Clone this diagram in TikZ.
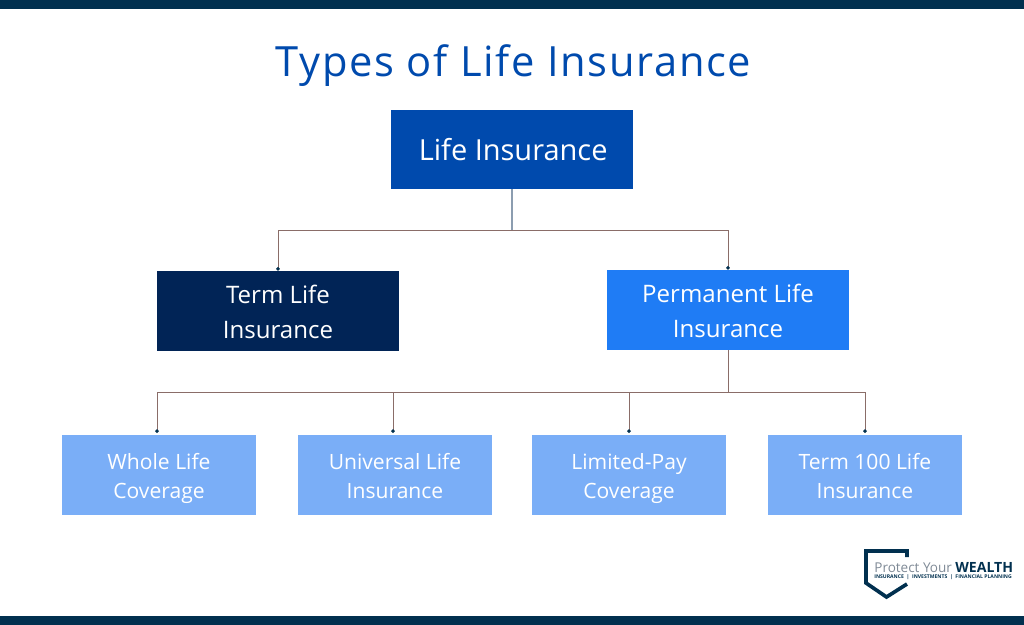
\documentclass[tikz,border=0pt]{standalone}
\usepackage{fontspec}
\setmainfont{Open Sans}
\newfontfamily\spacedfont[LetterSpace=4]{Open Sans}
\usetikzlibrary{arrows.meta,positioning}
\usepackage{xcolor}
\definecolor{barnavy}{HTML}{01304F}
\definecolor{titleblue}{HTML}{004AAD}
\definecolor{termnavy}{HTML}{012456}
\definecolor{permblue}{HTML}{1F7CF5}
\definecolor{paleblue}{HTML}{7AAEF7}
\definecolor{linkbrown}{HTML}{8A6D68}
\definecolor{stemgrey}{HTML}{8C9DB0}
\definecolor{logogrey}{HTML}{7F8A96}

\newcommand{\topstrut}[1]{\rule{0pt}{\dimexpr 0.7\baselineskip+#1\relax}}

\tikzset{
    box/.style={
        rectangle,
        inner sep=0pt,
        text=white,
        align=center
    },
    bigbox/.style={box, minimum width=242*0.02cm, minimum height=80*0.02cm, font=\fontsize{13.7}{20}\selectfont},
    smallbox/.style={box, fill=paleblue, minimum width=194*0.02cm, minimum height=80*0.02cm, font=\fontsize{12}{17}\selectfont},
    link/.style={linkbrown, line width=0.55pt, -{Circle[length=2pt,color=barnavy]}},
    logotext/.style={inner sep=0pt, anchor=base west}
}

\begin{document}
\begin{tikzpicture}[x=0.02cm, y=-0.02cm]

    \useasboundingbox (0, 0) rectangle (1024, 625);

    \fill[barnavy] (0, 0) rectangle (1024, 9);
    \fill[barnavy] (0, 616) rectangle (1024, 625);

    \node (types_title) [inner sep=0pt, text=titleblue, font=\fontsize{23.7}{28}\spacedfont] at (513.5, 66)
    {
        Types of Life Insurance
    };



    \node (life_insurance) [bigbox, fill=titleblue, minimum height=79*0.02cm, font=\fontsize{16.5}{20}\selectfont] at (512, 149.5)
    {
        \topstrut{5pt}\strut\hspace{5.6pt}Life Insurance
    };

    \node (term_life) [bigbox, fill=termnavy] at (278, 311)
    {
        \topstrut{3.4pt}\strut Term Life\\\strut Insurance
    };

    \node (permanent_life) [bigbox, fill=permblue] at (728, 310)
    {
        \topstrut{3pt}\strut Permanent Life\\\strut Insurance
    };



    \node (whole_life) [smallbox] at (159, 475)
    {
        \topstrut{3.4pt}\strut Whole Life\\\strut Coverage
    };

    \node (universal_life) [smallbox] at (395, 475)
    {
        \topstrut{3.4pt}\strut Universal Life\\\strut Insurance
    };

    \node (limited_pay) [smallbox] at (629, 475)
    {
        \topstrut{3.4pt}\strut Limited-Pay\\\strut Coverage
    };

    \node (term_100) [smallbox] at (865, 475)
    {
        \topstrut{3.4pt}\strut Term 100 Life\\\strut Insurance
    };


    \draw[stemgrey, line width=0.7pt] (life_insurance.south) to ++(0, 41) coordinate (top_fork);
    \draw[link] (top_fork) -| (term_life.north);
    \draw[link] (top_fork) -| (permanent_life.north);

    \coordinate (low_fork) at (728, 392);
    \draw[linkbrown, line width=0.55pt] (permanent_life.south) to (low_fork);
    \draw[link] (low_fork) -| ([xshift=-2*0.02cm, yshift=1pt]whole_life.north);
    \draw[link] (low_fork) -| ([xshift=-2*0.02cm, yshift=1pt]universal_life.north);
    \draw[link] (low_fork) -| ([yshift=1pt]limited_pay.north);
    \draw[link] (low_fork) -| ([yshift=1pt]term_100.north);


    % logo
    \draw[barnavy, line width=2.1pt, miter limit=10] (907, 557) -- (907, 551) -- (866, 551) -- (866, 583) -- (886.5, 597) -- (907, 584);
    \node (logo_protect) [logotext, text=logogrey, font=\fontsize{7.7}{9}\selectfont] at (874, 572.5)
    {
        Protect Your
    };
    \node (logo_wealth) [logotext, text=barnavy, font=\fontsize{8}{9}\bfseries] at (955, 572.5)
    {
        WEALTH
    };
    \node (logo_tagline) [logotext, text=barnavy, font=\fontsize{2.9}{4}\bfseries] at (874, 578.5)
    {
        INSURANCE \ | \ INVESTMENTS \ | \ FINANCIAL PLANNING
    };

\end{tikzpicture}
\end{document}
